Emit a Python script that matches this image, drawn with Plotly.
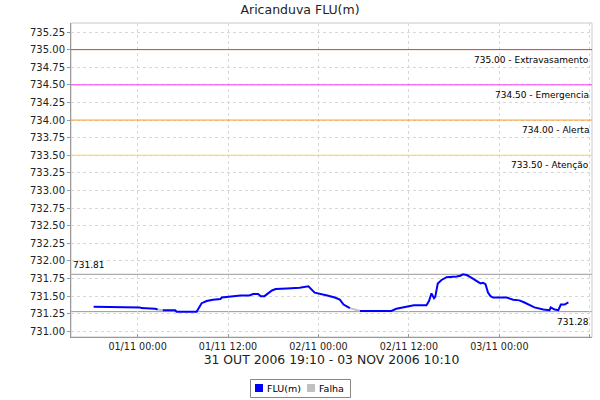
import plotly.graph_objects as go

# ---- data ----
times = [
    "2006-10-31 18:10", "2006-10-31 22:00", "2006-10-31 22:10", "2006-11-01 00:20", "2006-11-01 00:30",
    "2006-11-01 02:10", "2006-11-01 02:20", "2006-11-01 02:40", None, "2006-11-01 03:20",
    "2006-11-01 05:00", "2006-11-01 05:10", "2006-11-01 07:50", "2006-11-01 08:30", "2006-11-01 09:10",
    "2006-11-01 10:00", "2006-11-01 11:00", "2006-11-01 11:10", "2006-11-01 12:40", "2006-11-01 13:40",
    "2006-11-01 14:50", "2006-11-01 15:20", "2006-11-01 16:00", "2006-11-01 16:20", "2006-11-01 16:50",
    "2006-11-01 17:10", "2006-11-01 17:50", "2006-11-01 18:20", "2006-11-01 19:40", "2006-11-01 19:50",
    "2006-11-01 21:30", "2006-11-01 22:30", "2006-11-01 22:40", "2006-11-01 23:30", "2006-11-02 00:30",
    "2006-11-02 01:10", "2006-11-02 02:10", "2006-11-02 02:50", "2006-11-02 03:20", "2006-11-02 03:50",
    "2006-11-02 04:10", None, "2006-11-02 05:30", "2006-11-02 09:40", "2006-11-02 10:20",
    "2006-11-02 11:40", "2006-11-02 12:40", "2006-11-02 14:20", "2006-11-02 14:40", "2006-11-02 15:00",
    "2006-11-02 15:20", "2006-11-02 15:30", "2006-11-02 15:50", "2006-11-02 16:20", "2006-11-02 17:00",
    "2006-11-02 18:20", "2006-11-02 18:50", "2006-11-02 19:10", "2006-11-02 19:40", "2006-11-02 20:10",
    "2006-11-02 21:00", "2006-11-02 21:30", "2006-11-02 21:50", "2006-11-02 22:10", "2006-11-02 22:30",
    "2006-11-02 22:50", "2006-11-02 23:10", "2006-11-03 01:00", "2006-11-03 01:50", "2006-11-03 02:40",
    "2006-11-03 03:20", "2006-11-03 04:00", "2006-11-03 04:40", "2006-11-03 05:50", "2006-11-03 06:40",
    "2006-11-03 06:50", "2006-11-03 07:20", "2006-11-03 07:50", "2006-11-03 08:10", "2006-11-03 08:40",
    "2006-11-03 09:10",
]
flu = [
    731.35, 731.35, 731.34, 731.34, 731.33,
    731.33, 731.32, 731.31, None, 731.30,
    731.30, 731.28, 731.28, 731.40, 731.43,
    731.45, 731.46, 731.48, 731.50, 731.51,
    731.51, 731.53, 731.53, 731.50, 731.50,
    731.53, 731.58, 731.60, 731.60, 731.61,
    731.62, 731.64, 731.64, 731.55, 731.53,
    731.51, 731.48, 731.45, 731.38, 731.35,
    731.33, None, 731.29, 731.29, 731.32,
    731.35, 731.37, 731.37, 731.43, 731.54,
    731.47, 731.49, 731.68, 731.73, 731.77,
    731.78, 731.79, 731.81, 731.80, 731.77,
    731.71, 731.68, 731.69, 731.67, 731.55,
    731.50, 731.48, 731.48, 731.45, 731.44,
    731.41, 731.38, 731.34, 731.31, 731.30,
    731.34, 731.31, 731.30, 731.38, 731.38,
    731.41,
]
falha_times = ["2006-11-01 02:40", "2006-11-01 03:20", None, "2006-11-02 04:10", "2006-11-02 05:30"]
falha_vals = [731.31, 731.30, None, 731.33, 731.29]

levels = [735.00, 734.50, 734.00, 733.50]
level_names = ["Extravasamento", "Emergencia", "Alerta", "Atenção"]
level_colors = ["#e53a32", "#ff33ff", "#ff9922", "#f5d83c"]
max_val = 731.81
min_val = 731.28

series_names = ["FLU(m)", "Falha"]
series_colors = ["#0000ff", "#c0c0c0"]

y_ticks = [731.00 + 0.25 * i for i in range(18)]
x_range = ["2006-10-31 15:10", "2006-11-03 12:18"]
y_range = [730.92, 735.378]

FONT = "DejaVu Sans"
W, H = 600, 400
ML, MR, MT, MB = 71, 8, 23, 63
PW, PH = W - ML - MR, H - MT - MB


def px_x(px):
    return (px - ML) / PW


def px_y(py):
    return (H - MB - py) / PH


fig = go.Figure()
fig.add_trace(go.Scatter(x=falha_times, y=falha_vals, mode="lines", name=series_names[1],
                         showlegend=False, line=dict(color=series_colors[1], width=2), hoverinfo="skip"))
fig.add_trace(go.Scatter(x=times, y=flu, mode="lines", name=series_names[0], showlegend=False,
                         line=dict(color=series_colors[0], width=2), connectgaps=False))

shapes = []
annotations = []
for lv, nm, col in zip(levels, level_names, level_colors):
    shapes.append(dict(type="line", xref="paper", x0=0, x1=1, yref="y", y0=lv, y1=lv,
                       line=dict(color=col, width=1), layer="above"))
    annotations.append(dict(xref="paper", x=0.998, yref="y", y=lv, yshift=-10,
                            text=f"{lv:.2f} - {nm}", showarrow=False, xanchor="right",
                            font=dict(family=FONT, size=9, color="#000")))
for v in (max_val, min_val):
    shapes.append(dict(type="line", xref="paper", x0=0, x1=1, yref="y", y0=v, y1=v,
                       line=dict(color="#999999", width=1), layer="between"))
annotations.append(dict(xref="paper", x=0.0, yref="y", y=max_val, yshift=9,
                        text=f"{max_val:.2f}", showarrow=False, xanchor="left",
                        font=dict(family=FONT, size=9, color="#000")))
annotations.append(dict(xref="paper", x=0.998, yref="y", y=min_val, yshift=-10,
                        text=f"{min_val:.2f}", showarrow=False, xanchor="right",
                        font=dict(family=FONT, size=9, color="#000")))
# plot frame
shapes.append(dict(type="rect", xref="paper", yref="paper", x0=0, x1=1, y0=0, y1=1,
                   line=dict(color="#c8c8c8", width=1), layer="below"))

# compact legend box (as in the reference)
shapes.append(dict(type="rect", xref="paper", yref="paper",
                   x0=px_x(250.5), x1=px_x(350.5), y0=px_y(397.5), y1=px_y(379.5),
                   line=dict(color="#888", width=1), fillcolor="white", layer="above"))
leg_x = [255, 307]
for lx, nm, col in zip(leg_x, series_names, series_colors):
    shapes.append(dict(type="rect", xref="paper", yref="paper",
                       x0=px_x(lx), x1=px_x(lx + 8), y0=px_y(392), y1=px_y(384),
                       line=dict(width=0), fillcolor=col, layer="above"))
    annotations.append(dict(xref="paper", yref="paper", x=px_x(lx + 10), y=px_y(388.5),
                            text=nm, showarrow=False, xanchor="left", yanchor="middle",
                            font=dict(family=FONT, size=9.5, color="#000")))

fig.update_layout(
    width=W, height=H,
    margin=dict(l=ML, r=MR, t=MT, b=MB, autoexpand=False),
    paper_bgcolor="white", plot_bgcolor="white",
    title=dict(text="Aricanduva FLU(m)", x=0.5, xanchor="center",
               yref="container", y=0.975, yanchor="middle",
               font=dict(family=FONT, size=12.5, color="#222")),
    font=dict(family=FONT, size=10, color="#333"),
    shapes=shapes, annotations=annotations,
    showlegend=False,
    xaxis=dict(
        range=x_range, type="date", dtick=12 * 3600 * 1000, tick0="2006-11-01 00:00",
        tickformat="%d/%m %H:%M", showgrid=True, gridcolor="#d8d8d8", griddash="3px,3px",
        showline=True, linecolor="#999", ticks="inside", ticklen=3, tickcolor="#999",
        tickfont=dict(family=FONT, size=9.6, color="#222"),
        title=dict(text="31 OUT 2006 19:10 - 03 NOV 2006 10:10", standoff=4,
                   font=dict(family=FONT, size=12.4, color="#222")),
        zeroline=False,
    ),
    yaxis=dict(
        range=y_range, tickvals=y_ticks, tickformat=".2f",
        showgrid=True, gridcolor="#d8d8d8", griddash="3px,3px",
        showline=True, linecolor="#999", ticks="outside", ticklen=3, tickcolor="#999",
        tickfont=dict(family=FONT, size=10, color="#222"), zeroline=False,
    ),
)

fig.write_html("out.html", config={"displayModeBar": False},
               post_script="document.body.style.margin='0';document.body.style.padding='0';")
